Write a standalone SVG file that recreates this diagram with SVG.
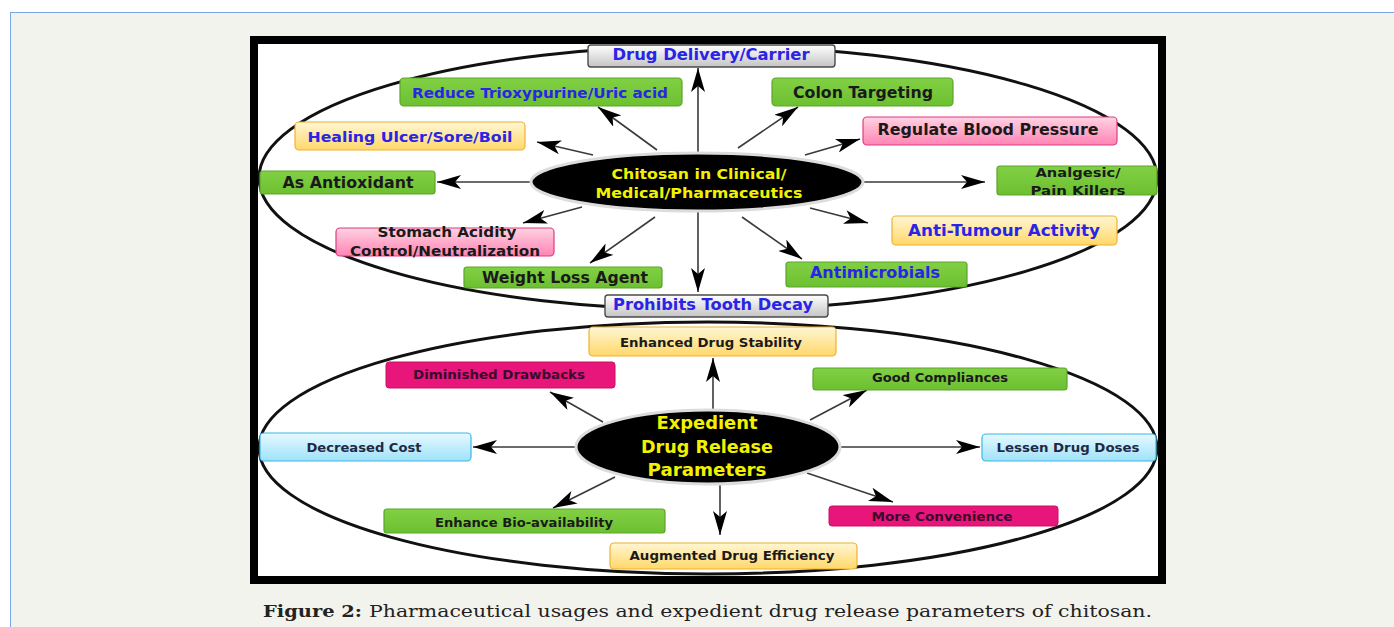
<svg xmlns="http://www.w3.org/2000/svg" width="1394" height="627" viewBox="0 0 1394 627">
<defs>
<style>
.t{font-family:"DejaVu Sans","Open Sans",sans-serif;font-weight:bold;text-anchor:middle;dominant-baseline:central}
.blue{fill:#2a24e6}
.blk{fill:#1a1a1a}
.yel{fill:#f2f200}
.con line{stroke:#3a3a3a;stroke-width:1.6;marker-end:url(#ah)}
.green{fill:url(#gG);stroke:#5aa52a;stroke-width:1.2}
.yellow{fill:url(#gY);stroke:#eeb22e;stroke-width:1.2}
.pink{fill:url(#gP);stroke:#de3d82;stroke-width:1.2}
.gray{fill:url(#gR);stroke:#4a4a4a;stroke-width:1.4}
.mag{fill:#e8157a;stroke:#c81066;stroke-width:1}
.lblue{fill:url(#gB);stroke:#3bb6e6;stroke-width:1.2}
</style>
<linearGradient id="gG" x1="0" y1="0" x2="0" y2="1"><stop offset="0" stop-color="#82d045"/><stop offset="1" stop-color="#6cc030"/></linearGradient>
<linearGradient id="gY" x1="0" y1="0" x2="0" y2="1"><stop offset="0" stop-color="#fff6d4"/><stop offset="1" stop-color="#ffd86a"/></linearGradient>
<linearGradient id="gP" x1="0" y1="0" x2="0" y2="1"><stop offset="0" stop-color="#ffd2e2"/><stop offset="1" stop-color="#ff84b4"/></linearGradient>
<linearGradient id="gR" x1="0" y1="0" x2="0" y2="1"><stop offset="0" stop-color="#ffffff"/><stop offset="1" stop-color="#c4c4c4"/></linearGradient>
<linearGradient id="gB" x1="0" y1="0" x2="0" y2="1"><stop offset="0" stop-color="#e6f9ff"/><stop offset="1" stop-color="#9fe2fa"/></linearGradient>
<marker id="ah" markerUnits="userSpaceOnUse" markerWidth="26" markerHeight="14" refX="24" refY="7" orient="auto">
<path d="M0,0 L24,7 L0,14 L6,7 z" fill="#000"/>
</marker>
</defs>

<rect x="0" y="0" width="1394" height="627" fill="#ffffff"/>
<rect x="10" y="12" width="1384" height="615" fill="#f3f3ee"/>
<line x1="10" y1="12.5" x2="1394" y2="12.5" stroke="#7aa6e6" stroke-width="1"/>
<line x1="10.5" y1="12" x2="10.5" y2="627" stroke="#7aa6e6" stroke-width="1"/>

<rect x="254" y="40" width="908" height="540" fill="#ffffff" stroke="#000" stroke-width="8"/>

<g id="ellipses">
<ellipse cx="708" cy="178" rx="449" ry="132" fill="none" stroke="#111" stroke-width="3"/>
<ellipse cx="708" cy="448" rx="449" ry="126" fill="none" stroke="#111" stroke-width="3"/>
</g>

<g id="connectors" class="con">
<line x1="698" y1="152" x2="698" y2="68"/>
<line x1="657" y1="150" x2="598" y2="107"/>
<line x1="593" y1="155" x2="537" y2="142"/>
<line x1="738" y1="148" x2="798" y2="107"/>
<line x1="805" y1="155" x2="860" y2="139"/>
<line x1="532" y1="182" x2="437" y2="182"/>
<line x1="864" y1="182" x2="985" y2="182"/>
<line x1="810" y1="208" x2="868" y2="223"/>
<line x1="582" y1="207" x2="523" y2="223"/>
<line x1="655" y1="217" x2="590" y2="263"/>
<line x1="698" y1="212" x2="698" y2="292"/>
<line x1="742" y1="217" x2="802" y2="259"/>
<line x1="713" y1="410" x2="713" y2="358"/>
<line x1="603" y1="422" x2="550" y2="392"/>
<line x1="810" y1="420" x2="867" y2="390"/>
<line x1="576" y1="447" x2="473" y2="447"/>
<line x1="841" y1="447" x2="980" y2="447"/>
<line x1="615" y1="477" x2="553" y2="508"/>
<line x1="807" y1="473" x2="893" y2="502"/>
<line x1="720" y1="484" x2="720" y2="535"/>
</g>

<g id="center-top">
<ellipse cx="697" cy="182" rx="166" ry="29" fill="#000" stroke="#dcdcdc" stroke-width="3"/>
<text class="t yel" x="699" y="174" font-size="14" textLength="175" lengthAdjust="spacingAndGlyphs">Chitosan in Clinical/</text>
<text class="t yel" x="699" y="193" font-size="14" textLength="207" lengthAdjust="spacingAndGlyphs">Medical/Pharmaceutics</text>
</g>

<g id="center-bottom">
<ellipse cx="708" cy="447" rx="132" ry="37" fill="#000" stroke="#dcdcdc" stroke-width="3"/>
<text class="t yel" x="707" y="423" font-size="17" textLength="101" lengthAdjust="spacingAndGlyphs">Expedient</text>
<text class="t yel" x="707" y="447" font-size="17" textLength="132" lengthAdjust="spacingAndGlyphs">Drug Release</text>
<text class="t yel" x="707" y="470" font-size="17" textLength="119" lengthAdjust="spacingAndGlyphs">Parameters</text>
</g>

<g id="drug-delivery">
<rect x="588" y="45" width="247" height="22" rx="3" class="gray"/>
<text class="t blue" x="711" y="55" font-size="15" textLength="197" lengthAdjust="spacingAndGlyphs">Drug Delivery/Carrier</text>
</g>
<g id="reduce-trioxypurine">
<rect x="400" y="78" width="282" height="28" rx="4" class="green"/>
<text class="t blue" x="540" y="93" font-size="14" textLength="256" lengthAdjust="spacingAndGlyphs">Reduce Trioxypurine/Uric acid</text>
</g>
<g id="colon-targeting">
<rect x="772" y="78" width="181" height="28" rx="4" class="green"/>
<text class="t blk" x="863" y="93" font-size="15" textLength="140" lengthAdjust="spacingAndGlyphs">Colon Targeting</text>
</g>
<g id="regulate-bp">
<rect x="863" y="117" width="254" height="28" rx="4" class="pink"/>
<text class="t blk" x="988" y="130" font-size="15" textLength="221" lengthAdjust="spacingAndGlyphs">Regulate Blood Pressure</text>
</g>
<g id="healing-ulcer">
<rect x="295" y="122" width="230" height="28" rx="4" class="yellow"/>
<text class="t blue" x="410" y="137" font-size="14" textLength="205" lengthAdjust="spacingAndGlyphs">Healing Ulcer/Sore/Boil</text>
</g>
<g id="antioxidant">
<rect x="260" y="171" width="175" height="23" rx="3" class="green"/>
<text class="t blk" x="348" y="183" font-size="15" textLength="131" lengthAdjust="spacingAndGlyphs">As Antioxidant</text>
</g>
<g id="analgesic">
<rect x="997" y="166" width="160" height="29" rx="3" class="green"/>
<text class="t blk" x="1078" y="172" font-size="13" textLength="85" lengthAdjust="spacingAndGlyphs">Analgesic/</text>
<text class="t blk" x="1078" y="190" font-size="13" textLength="95" lengthAdjust="spacingAndGlyphs">Pain Killers</text>
</g>
<g id="anti-tumour">
<rect x="892" y="216" width="225" height="29" rx="4" class="yellow"/>
<text class="t blue" x="1004" y="230" font-size="16" textLength="192" lengthAdjust="spacingAndGlyphs">Anti-Tumour Activity</text>
</g>
<g id="stomach-acidity">
<rect x="336" y="228" width="218" height="28" rx="4" class="pink"/>
<text class="t blk" x="447" y="232" font-size="14" textLength="139" lengthAdjust="spacingAndGlyphs">Stomach Acidity</text>
<text class="t blk" x="445" y="251" font-size="14" textLength="190" lengthAdjust="spacingAndGlyphs">Control/Neutralization</text>
</g>
<g id="weight-loss">
<rect x="464" y="267" width="198" height="21" rx="3" class="green"/>
<text class="t blk" x="565" y="277" font-size="16" textLength="166" lengthAdjust="spacingAndGlyphs">Weight Loss Agent</text>
</g>
<g id="antimicrobials">
<rect x="786" y="262" width="181" height="25" rx="3" class="green"/>
<text class="t blue" x="875" y="273" font-size="15" textLength="130" lengthAdjust="spacingAndGlyphs">Antimicrobials</text>
</g>
<g id="tooth-decay">
<rect x="605" y="295" width="223" height="22" rx="3" class="gray"/>
<text class="t blue" x="713" y="305" font-size="15" textLength="200" lengthAdjust="spacingAndGlyphs">Prohibits Tooth Decay</text>
</g>

<g id="drug-stability">
<rect x="589" y="327" width="247" height="29" rx="4" class="yellow"/>
<text class="t blk" x="711" y="342" font-size="12.5" textLength="182" lengthAdjust="spacingAndGlyphs">Enhanced Drug Stability</text>
</g>
<g id="diminished-drawbacks">
<rect x="386" y="362" width="229" height="26" rx="3" class="mag"/>
<text class="t" fill="#3a0a2e" x="499" y="374" font-size="12.5" textLength="172" lengthAdjust="spacingAndGlyphs">Diminished  Drawbacks</text>
</g>
<g id="good-compliances">
<rect x="813" y="368" width="254" height="22" rx="3" class="green"/>
<text class="t blk" x="940" y="377" font-size="12.5" textLength="136" lengthAdjust="spacingAndGlyphs">Good Compliances</text>
</g>
<g id="decreased-cost">
<rect x="260" y="433" width="211" height="28" rx="4" class="lblue"/>
<text class="t" fill="#1e2a44" x="364" y="447" font-size="12.5" textLength="115" lengthAdjust="spacingAndGlyphs">Decreased Cost</text>
</g>
<g id="lessen-doses">
<rect x="982" y="434" width="174" height="27" rx="4" class="lblue"/>
<text class="t" fill="#1e2a44" x="1068" y="447" font-size="12.5" textLength="143" lengthAdjust="spacingAndGlyphs">Lessen  Drug Doses</text>
</g>
<g id="bio-availability">
<rect x="384" y="509" width="281" height="24" rx="3" class="green"/>
<text class="t blk" x="524" y="522" font-size="12.5" textLength="178" lengthAdjust="spacingAndGlyphs">Enhance Bio-availability</text>
</g>
<g id="more-convenience">
<rect x="829" y="506" width="229" height="20" rx="3" class="mag"/>
<text class="t" fill="#3a0a2e" x="942" y="516" font-size="12.5" textLength="141" lengthAdjust="spacingAndGlyphs">More Convenience</text>
</g>
<g id="drug-efficiency">
<rect x="610" y="543" width="247" height="26" rx="4" class="yellow"/>
<text class="t blk" x="732" y="555" font-size="12.5" textLength="205" lengthAdjust="spacingAndGlyphs">Augmented Drug Efficiency</text>
</g>

<g id="caption" font-family="DejaVu Serif, 'Liberation Serif', serif" font-size="17" fill="#222">
<text x="263" y="617" font-weight="bold" textLength="99" lengthAdjust="spacingAndGlyphs">Figure 2:</text>
<text x="369" y="617" textLength="783" lengthAdjust="spacingAndGlyphs">Pharmaceutical usages and expedient drug release parameters of chitosan.</text>
</g>
</svg>
